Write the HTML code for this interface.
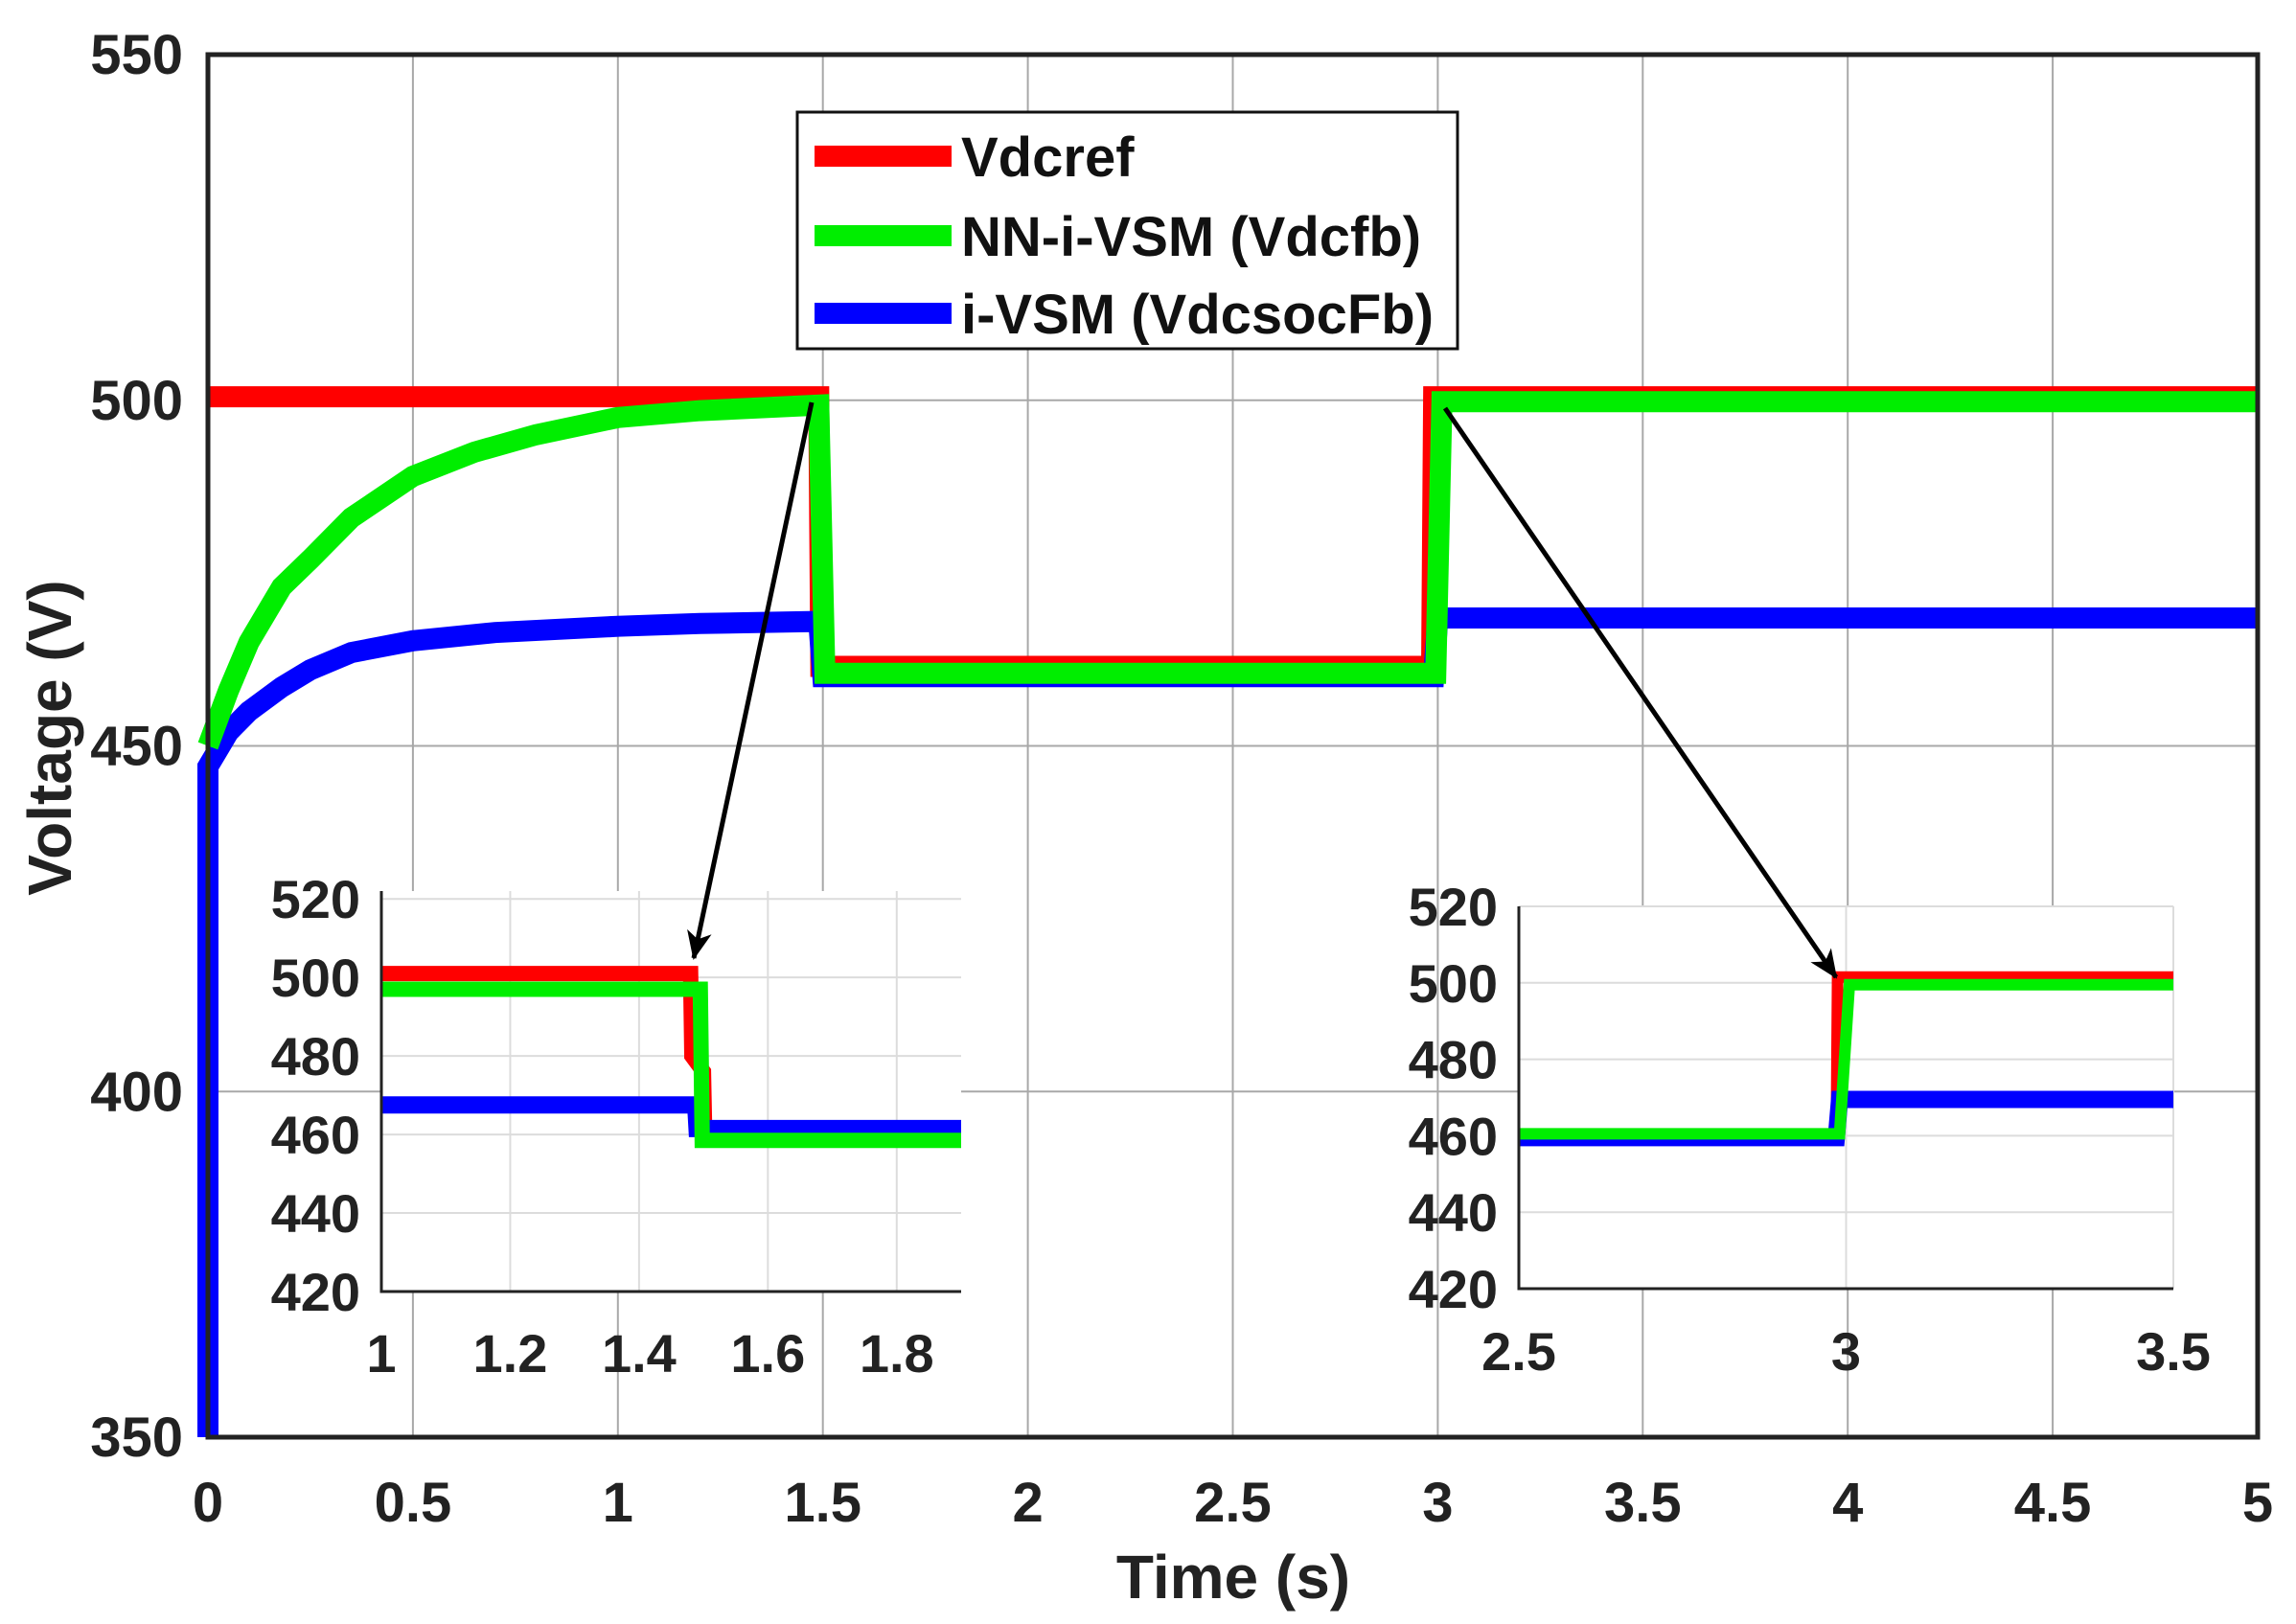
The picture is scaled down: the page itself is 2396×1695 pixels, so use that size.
<!DOCTYPE html>
<html><head><meta charset="utf-8"><style>
html,body{margin:0;padding:0;background:#fff;}
svg{display:block;font-family:"Liberation Sans",Arial,sans-serif;font-weight:bold;}
</style></head><body>
<svg id="chart" width="2396" height="1695" viewBox="0 0 2396 1695" xmlns="http://www.w3.org/2000/svg">
<defs><marker id="ah" markerWidth="30" markerHeight="30" refX="28" refY="15" orient="auto" markerUnits="userSpaceOnUse" viewBox="0 0 30 30"><path d="M0,2 L30,15 L0,28 L8,15 z" fill="#000"/></marker></defs>
<g id="main"></g>
<g id="ins1"></g>
<g id="ins2"></g>
</svg>
<script>
// ---------- main chart data ----------
const xTicks = [0,0.5,1,1.5,2,2.5,3,3.5,4,4.5,5];
const xTickLabels = ["0","0.5","1","1.5","2","2.5","3","3.5","4","4.5","5"];
const yTicks = [350,400,450,500,550];
const yTickLabels = ["350","400","450","500","550"];
const refT = [0,1.49,1.495,2.985,2.99,5];
const refV = [500.5,500.5,461.5,461.5,500.5,500.5];
const nnT = [0,0.05,0.1,0.18,0.25,0.35,0.5,0.65,0.8,1.0,1.2,1.49,1.505,2.995,3.01,5];
const nnV = [450,458,465,473,477,483,489,492.5,495,497.5,498.5,499.3,460.5,460.5,499.8,499.8];
const ivT = [0,0,0.02,0.05,0.1,0.18,0.25,0.35,0.5,0.7,1.0,1.2,1.49,1.5,2.99,3.0,5];
const ivV = [350,447,449,452,455,458.5,461,463.5,465.2,466.4,467.3,467.7,468,460,460,468.5,468.5];
// inset 1 data
const i1XTicks = [1,1.2,1.4,1.6,1.8];
const i1XLabels = ["1","1.2","1.4","1.6","1.8"];
const i1YTicks = [420,440,460,480,500,520];
const i1YLabels = ["420","440","460","480","500","520"];
const i1RefT = [1,1.48,1.482,1.5,1.502,1.9];
const i1RefV = [501,501,480,476,459,459];
const i1NnT = [1,1.495,1.498,1.9];
const i1NnV = [497,497,458.5,458.5];
const i1IvT = [1,1.488,1.49,1.9];
const i1IvV = [467.5,467.5,461.5,461.5];
// inset 2 data
const i2XTicks = [2.5,3,3.5];
const i2XLabels = ["2.5","3","3.5"];
const i2YTicks = [420,440,460,480,500,520];
const i2YLabels = ["420","440","460","480","500","520"];
const i2RefT = [2.5,2.985,2.987,3.5];
const i2RefV = [460,460,501.5,501.5];
const i2IvT = [2.5,2.985,2.99,3.5];
const i2IvV = [459.5,459.5,469.5,469.5];
const i2NnT = [2.5,2.99,3.005,3.5];
const i2NnV = [460.5,460.5,499.5,499.5];

const NS="http://www.w3.org/2000/svg";
function mk(tag,attrs,parent,txt){const e=document.createElementNS(NS,tag);for(const k in attrs)e.setAttribute(k,attrs[k]);if(txt!==undefined)e.textContent=txt;parent.appendChild(e);return e;}
function scale(d0,d1,r0,r1){return v=>r0+(v-d0)/(d1-d0)*(r1-r0);}

// main axes
const L=217,R=2356,T=57,B=1500;
const sx=scale(0,5,L,R), sy=scale(350,550,B,T);
const g=document.getElementById('main');
for(let i=0;i<xTicks.length;i++){
  const gl=mk('line',{x1:sx(xTicks[i]),x2:sx(xTicks[i]),y1:T,y2:B,stroke:'#a8a8a8','stroke-width':2},g);
  
  
  const t=mk('text',{x:sx(xTicks[i]),y:1588,'text-anchor':'middle','font-size':58,fill:'#222'},g,xTickLabels[i]);
  
  
}
for(let i=0;i<yTicks.length;i++){
  const gl=mk('line',{x1:L,x2:R,y1:sy(yTicks[i]),y2:sy(yTicks[i]),stroke:'#a8a8a8','stroke-width':2},g);
  
  
  const t=mk('text',{x:191,y:sy(yTicks[i])+20,'text-anchor':'end','font-size':58,fill:'#222'},g,yTickLabels[i]);
  
  
}
function series(parent,ts,vs,fx,fy,color,w,name){
  let d='';for(let i=0;i<ts.length;i++)d+=(i?'L':'M')+fx(ts[i]).toFixed(1)+','+fy(vs[i]).toFixed(1);
  const p=mk('path',{d:d,fill:'none',stroke:color,'stroke-width':w,'stroke-linejoin':'miter'},parent);
  
  
  return p;
}
series(g,refT,refV,sx,sy,'#ff0000',22,'vdcref-line');
series(g,ivT,ivV,sx,sy,'#0000ff',22,'ivsm-line');
series(g,nnT,nnV,sx,sy,'#00ee00',22,'nn-ivsm-line');
const fr=mk('rect',{x:L,y:T,width:R-L,height:B-T,fill:'none',stroke:'#222','stroke-width':5},g);


const xt=mk('text',{x:1287,y:1668,'text-anchor':'middle','font-size':64,fill:'#222'},g,'Time (s)');


const yt=mk('text',{x:0,y:0,'text-anchor':'middle','font-size':64,fill:'#222',transform:'translate(74,770) rotate(-90)'},g,'Voltage (V)');



// legend
const lg=mk('g',{},g);


mk('rect',{x:832,y:117,width:689,height:247,fill:'#fff',stroke:'#111','stroke-width':3},lg);
const legNames=['Vdcref','NN-i-VSM (Vdcfb)','i-VSM (VdcsocFb)'];
const legColors=['#ff0000','#00ee00','#0000ff'];
const legY=[163,246,327];
for(let i=0;i<3;i++){
  const e=mk('g',{},lg);
  
  
  mk('line',{x1:850,x2:993,y1:legY[i],y2:legY[i],stroke:legColors[i],'stroke-width':22},e);
  mk('text',{x:1003,y:legY[i]+21,'font-size':58,fill:'#111'},e,legNames[i]);
}

// insets
function inset(id,x0,x1,y0,y1,xd,yd,xt,xl,yt2,yl,labY,refs,name){
  const gi=document.getElementById(id);
  
  
  mk('rect',{x:x0,y:y0,width:x1-x0,height:y1-y0,fill:'#fff'},gi);
  const fx=scale(xd[0],xd[1],x0,x1), fy=scale(yd[0],yd[1],y1,y0);
  for(let i=0;i<xt.length;i++){
    const l=mk('line',{x1:fx(xt[i]),x2:fx(xt[i]),y1:y0,y2:y1,stroke:'#dcdcdc','stroke-width':2},gi);
    
    
    const t=mk('text',{x:fx(xt[i]),y:labY,'text-anchor':'middle','font-size':56,fill:'#222'},gi,xl[i]);
    
    
  }
  for(let i=0;i<yt2.length;i++){
    const l=mk('line',{x1:x0,x2:x1,y1:fy(yt2[i]),y2:fy(yt2[i]),stroke:'#dcdcdc','stroke-width':2},gi);
    
    
    const t=mk('text',{x:x0-22,y:fy(yt2[i])+20,'text-anchor':'end','font-size':56,fill:'#222'},gi,yl[i]);
    
    
  }
  for(const r of refs) series(gi,r[0],r[1],fx,fy,r[2],r[3],r[4]);
  const ax=mk('path',{d:`M${x0},${y0}L${x0},${y1}L${x1},${y1}`,fill:'none',stroke:'#222','stroke-width':3},gi);
  
  
}
inset('ins1',398,1003,930,1348,[1,1.9],[420,522],i1XTicks,i1XLabels,i1YTicks,i1YLabels,1432,
  [[i1RefT,i1RefV,'#ff0000',16,'inset1-vdcref'],[i1IvT,i1IvV,'#0000ff',18,'inset1-ivsm'],[i1NnT,i1NnV,'#00ee00',16,'inset1-nn-ivsm']],'inset-zoom-1-5s');
inset('ins2',1585,2268,946,1345,[2.5,3.5],[420,520],i2XTicks,i2XLabels,i2YTicks,i2YLabels,1430,
  [[i2RefT,i2RefV,'#ff0000',12,'inset2-vdcref'],[i2IvT,i2IvV,'#0000ff',18,'inset2-ivsm'],[i2NnT,i2NnV,'#00ee00',12,'inset2-nn-ivsm']],'inset-zoom-3s');

// arrows
const svg=document.getElementById('chart');
const a1=mk('line',{x1:847,y1:420,x2:724,y2:1000,stroke:'#000','stroke-width':5,'marker-end':'url(#ah)'},svg);


const a2=mk('line',{x1:1508,y1:426,x2:1916,y2:1020,stroke:'#000','stroke-width':5,'marker-end':'url(#ah)'},svg);


</script>
</body></html>
